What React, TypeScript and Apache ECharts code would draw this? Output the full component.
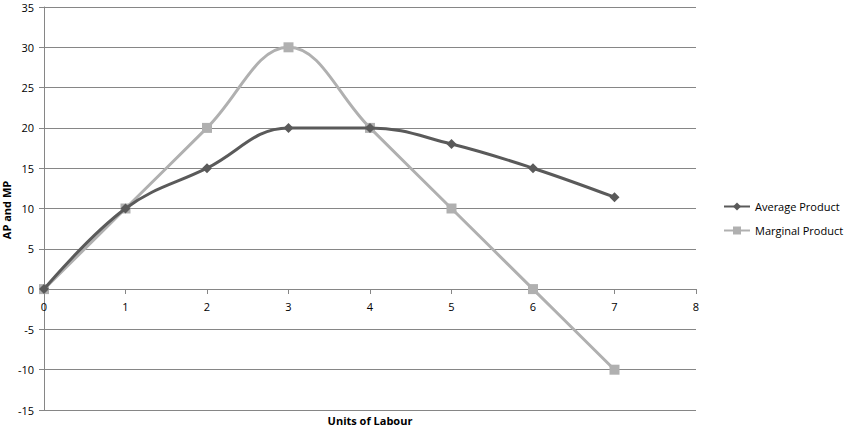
import React, { useEffect, useRef } from "react";
import * as echarts from "echarts";

const unitsOfLabour = [0, 1, 2, 3, 4, 5, 6, 7];
const averageProduct = [0, 10, 15, 20, 20, 18, 15, 11.4];
const marginalProduct = [0, 10, 20, 30, 20, 10, 0, -10];
const seriesNames = ["Average Product", "Marginal Product"];
const xTitle = "Units of Labour";
const yTitle = "AP and MP";

const FONT = "'Open Sans', 'Noto Sans', sans-serif";

const Y_MIN = -15;
const Y_MAX = 35;
const GRID_TOP = 7;
const GRID_BOTTOM = 22;
const GRID_H = 432 - GRID_TOP - GRID_BOTTOM;
// move the x axis up to the y = 0 level
const X_OFFSET = -Math.round(((0 - Y_MIN) / (Y_MAX - Y_MIN)) * GRID_H);

export default function App() {
  const ref = useRef<HTMLDivElement>(null);
  useEffect(() => {
    if (!ref.current) return;
    const chart = echarts.init(ref.current, null, { renderer: "svg" });
    const gridColor = "#868686";
    chart.setOption({
      animation: false,
      textStyle: { fontFamily: FONT },
      grid: { left: 44, top: GRID_TOP, right: 155, bottom: GRID_BOTTOM, containLabel: false },
      legend: {
        orient: "vertical",
        left: 718,
        top: 196,
        itemWidth: 26,
        itemHeight: 10,
        itemGap: 13,
        textStyle: { fontSize: 11, color: "#000", fontFamily: FONT },
        data: seriesNames,
      },
      xAxis: {
        type: "value",
        min: 0,
        max: 8,
        interval: 1,
        offset: X_OFFSET,
        axisLine: { onZero: false, lineStyle: { color: gridColor, width: 1 } },
        axisTick: { show: true, length: 5, inside: false, lineStyle: { color: gridColor } },
        axisLabel: { fontSize: 11, color: "#000", margin: 12, fontFamily: FONT, hideOverlap: false },
        splitLine: { show: false },
      },
      yAxis: {
        type: "value",
        min: Y_MIN,
        max: Y_MAX,
        interval: 5,
        axisLine: { show: true, onZero: false, lineStyle: { color: gridColor, width: 1 } },
        axisTick: { show: true, length: 5, lineStyle: { color: gridColor } },
        axisLabel: { fontSize: 11, color: "#000", margin: 10, fontFamily: FONT, hideOverlap: false },
        splitLine: { show: true, lineStyle: { color: gridColor, width: 1 } },
      },
      graphic: [
        {
          type: "text",
          x: 370,
          y: 420,
          style: {
            text: xTitle,
            font: `bold 11px ${FONT}`,
            fill: "#000",
            align: "center",
            verticalAlign: "middle",
          },
        },
        {
          type: "text",
          x: 6,
          y: 210,
          rotation: Math.PI / 2,
          style: {
            text: yTitle,
            font: `bold 11px ${FONT}`,
            fill: "#000",
            align: "center",
            verticalAlign: "middle",
          },
        },
      ],
      series: [
        {
          name: seriesNames[0],
          type: "line",
          smooth: 0.4,
          smoothMonotone: "none",
          data: unitsOfLabour.map((x, i) => [x, averageProduct[i]]),
          symbol: "diamond",
          symbolSize: 10,
          lineStyle: { color: "#5a5a5a", width: 3 },
          itemStyle: { color: "#5a5a5a" },
          z: 3,
        },
        {
          name: seriesNames[1],
          type: "line",
          smooth: 0.4,
          smoothMonotone: "none",
          data: unitsOfLabour.map((x, i) => [x, marginalProduct[i]]),
          symbol: "rect",
          symbolSize: 10,
          lineStyle: { color: "#b0b0b0", width: 3 },
          itemStyle: { color: "#b0b0b0" },
          z: 2,
        },
      ],
    });
    return () => chart.dispose();
  }, []);
  return <div ref={ref} style={{ width: 851, height: 432, position: "absolute", left: 0, top: 0, background: "#fff" }} />;
}
